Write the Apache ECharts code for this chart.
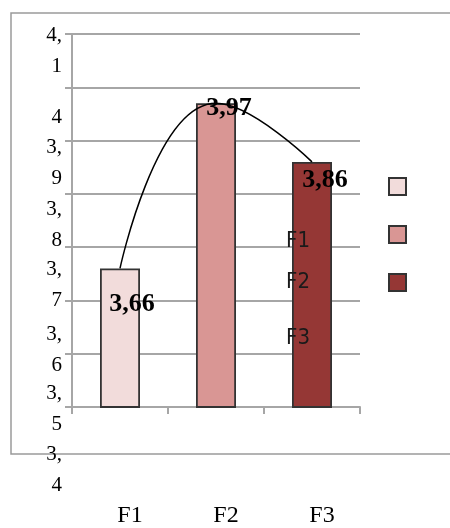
<!DOCTYPE html>
<html>
<head>
<meta charset="utf-8">
<script src="https://cdn.jsdelivr.net/npm/echarts@6/dist/echarts.min.js"></script>
<style>
  html, body { margin: 0; padding: 0; background: #fff; }
  #chart { width: 450px; height: 528px; }
</style>
</head>
<body>
<div id="chart"></div>
<script>
const categories = ["F1", "F2", "F3"];
const values = [3.66, 3.97, 3.86];
const yTickLabels = ["3,4", "3,5", "3,6", "3,7", "3,8", "3,9", "4", "4,1"];

const barColors = ["#f2dcdb", "#d99694", "#953735"];
// where each value label sits, measured from the bar's top-left corner
const valueLabelPos = [[32, 36], [33, 5], [33, 18]];
// the y labels drift downwards from their gridlines (px, first line)
const yLabelDrop = [58, 50, 45, 33, 26, 17, 41, 12];

const serif = "'Liberation Serif', 'Times New Roman', serif";
const narrow = "'Liberation Sans Narrow', 'DejaVu Sans Condensed', 'Liberation Sans', sans-serif";
const gray = "#a6a6a6";

const fmt = v => String(v).replace(".", ",");

// rich styles for the wrapped y labels
const yRich = { n: { lineHeight: 41, fontSize: 21, fontFamily: serif, color: "#000" } };
yLabelDrop.forEach((h, i) => {
  yRich["h" + i] = { lineHeight: h, verticalAlign: "bottom", fontSize: 21, fontFamily: serif, color: "#000" };
});

function yLabel(index) {
  const parts = yTickLabels[index].split(",");
  if (parts.length === 1) return "{h" + index + "|" + parts[0] + "}";
  return "{h" + index + "|" + parts[0] + ",}\n{n|" + parts[1] + "}";
}

// the bottom label hangs so low that echarts would drop it (or its neighbour)
// as overlapping, so it gets its own label-only axis
function valueAxis(main) {
  return {
    type: "value",
    min: 3.4,
    max: 4.1,
    interval: 0.1,
    position: "left",
    axisLine: { show: main, lineStyle: { color: gray, width: 2 } },
    axisTick: { show: main, length: 7, lineStyle: { color: gray, width: 2 } },
    splitLine: { show: main, lineStyle: { color: gray, width: 2 } },
    axisLabel: {
      margin: 10,
      showMinLabel: true,
      showMaxLabel: true,
      verticalAlign: "top",
      lineHeight: 1,
      rich: yRich,
      formatter: (value, index) => ((index === 0) === main ? "" : yLabel(index))
    }
  };
}

const barSeries = categories.map((name, i) => ({
  name: name,
  type: "bar",
  barWidth: 40,
  barGap: "-100%",
  itemStyle: { color: barColors[i], borderColor: "#333", borderWidth: 1.8 },
  label: {
    show: true,
    position: valueLabelPos[i],
    align: "center",
    verticalAlign: "middle",
    formatter: p => fmt(p.value),
    fontFamily: serif,
    fontWeight: "bold",
    fontSize: 26,
    color: "#000"
  },
  data: values.map((v, j) => (j === i ? v : "-"))
}));

const chart = echarts.init(document.getElementById("chart"));
chart.setOption({
  animation: false,
  grid: { left: 72, right: 90, top: 34, bottom: 121, outerBoundsMode: "none" },
  graphic: [{
    type: "rect",
    silent: true,
    z: -10,
    shape: { x: 11, y: 13, width: 460, height: 441 },
    style: { fill: "none", stroke: "#9a9a9a", lineWidth: 1.5 }
  }],
  legend: [
    {
      // colour boxes only
      data: categories,
      orient: "vertical",
      left: 388,
      top: 177,
      padding: 0,
      icon: "rect",
      itemWidth: 17,
      itemHeight: 17,
      itemGap: 29,
      selectedMode: false,
      formatter: () => "",
      textStyle: { fontSize: 1 }
    },
    {
      // the names, which ended up left of the boxes
      data: [{ name: "F1" }, { name: "F2" }, { name: "F3", textStyle: { lineHeight: 53 } }],
      orient: "vertical",
      left: 280,
      top: 230,
      padding: 0,
      itemWidth: 0,
      itemHeight: 0,
      itemGap: 19,
      selectedMode: false,
      itemStyle: { opacity: 0 },
      textStyle: { fontFamily: narrow, fontSize: 22, color: "#1a1a1a" }
    }
  ],
  xAxis: {
    type: "category",
    data: categories,
    axisLine: { lineStyle: { color: gray, width: 2 } },
    axisTick: { show: true, length: 7, lineStyle: { color: gray, width: 2 } },
    axisLabel: {
      margin: 97,
      padding: [0, 0, 0, 20],
      fontFamily: serif,
      fontSize: 24,
      color: "#000"
    }
  },
  yAxis: [valueAxis(true), valueAxis(false)],
  series: barSeries.concat([{
    name: "trend",
    type: "line",
    data: values,
    smooth: 0.5,
    showSymbol: false,
    silent: true,
    z: 5,
    lineStyle: { color: "#000", width: 1.5 }
  }])
});
</script>
</body>
</html>
